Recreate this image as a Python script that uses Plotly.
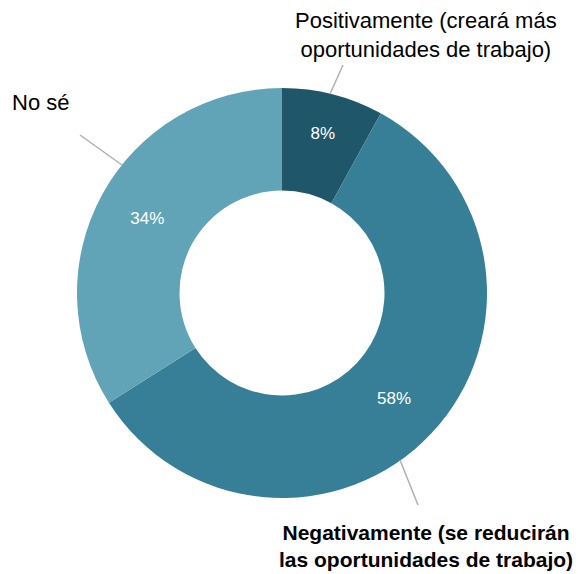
import plotly.graph_objects as go

labels = ["Positivamente (creará más oportunidades de trabajo)",
          "Negativamente (se reducirán las oportunidades de trabajo)",
          "No sé"]
values = [8, 58, 34]
colors = ["#1f5669", "#377f97", "#62a4b7"]

W, H = 578, 574

def px(x):
    return x / W

def py(y):
    return 1 - y / H

fig = go.Figure(go.Pie(
    labels=labels, values=values, sort=False, direction="clockwise", rotation=0,
    hole=0.5, marker=dict(colors=colors, line=dict(width=0)),
    textinfo="percent", textposition="inside", insidetextorientation="horizontal",
    textfont=dict(color="white", size=17, family="Liberation Sans, Arial"),
    domain=dict(x=[px(77), px(487)], y=[py(498), py(88)]),
    showlegend=False, hoverinfo="label+percent",
))

font = dict(family="Liberation Sans, Arial", size=22, color="#000000")
fontb = dict(family="Liberation Sans, Arial", size=21, color="#000000")
annotations = [
    dict(x=px(426), y=py(35), text="Positivamente (creará más<br>oportunidades de trabajo)",
         font=font, align="center"),
    dict(x=px(40), y=py(103), text="No sé", font=font, align="center"),
    dict(x=px(426), y=py(546), text="<b>Negativamente (se reducirán<br>las oportunidades de trabajo)</b>",
         font=fontb, align="center"),
]
for a in annotations:
    a.update(xref="paper", yref="paper", showarrow=False, xanchor="center", yanchor="middle")

lines = [((343, 65), (330, 94)), ((80, 135), (122, 165)), ((400, 460), (418, 505))]
shapes = [dict(type="line", xref="paper", yref="paper",
               x0=px(a[0]), y0=py(a[1]), x1=px(b[0]), y1=py(b[1]),
               line=dict(color="#b0b0b0", width=1.5)) for a, b in lines]

fig.update_layout(width=W, height=H, margin=dict(l=0, r=0, t=0, b=0),
                  paper_bgcolor="white", plot_bgcolor="white",
                  annotations=annotations, shapes=shapes)
fig.write_html("out.html", config={"displayModeBar": False},
               post_script="document.body.style.margin='0';document.body.style.overflow='hidden';")
